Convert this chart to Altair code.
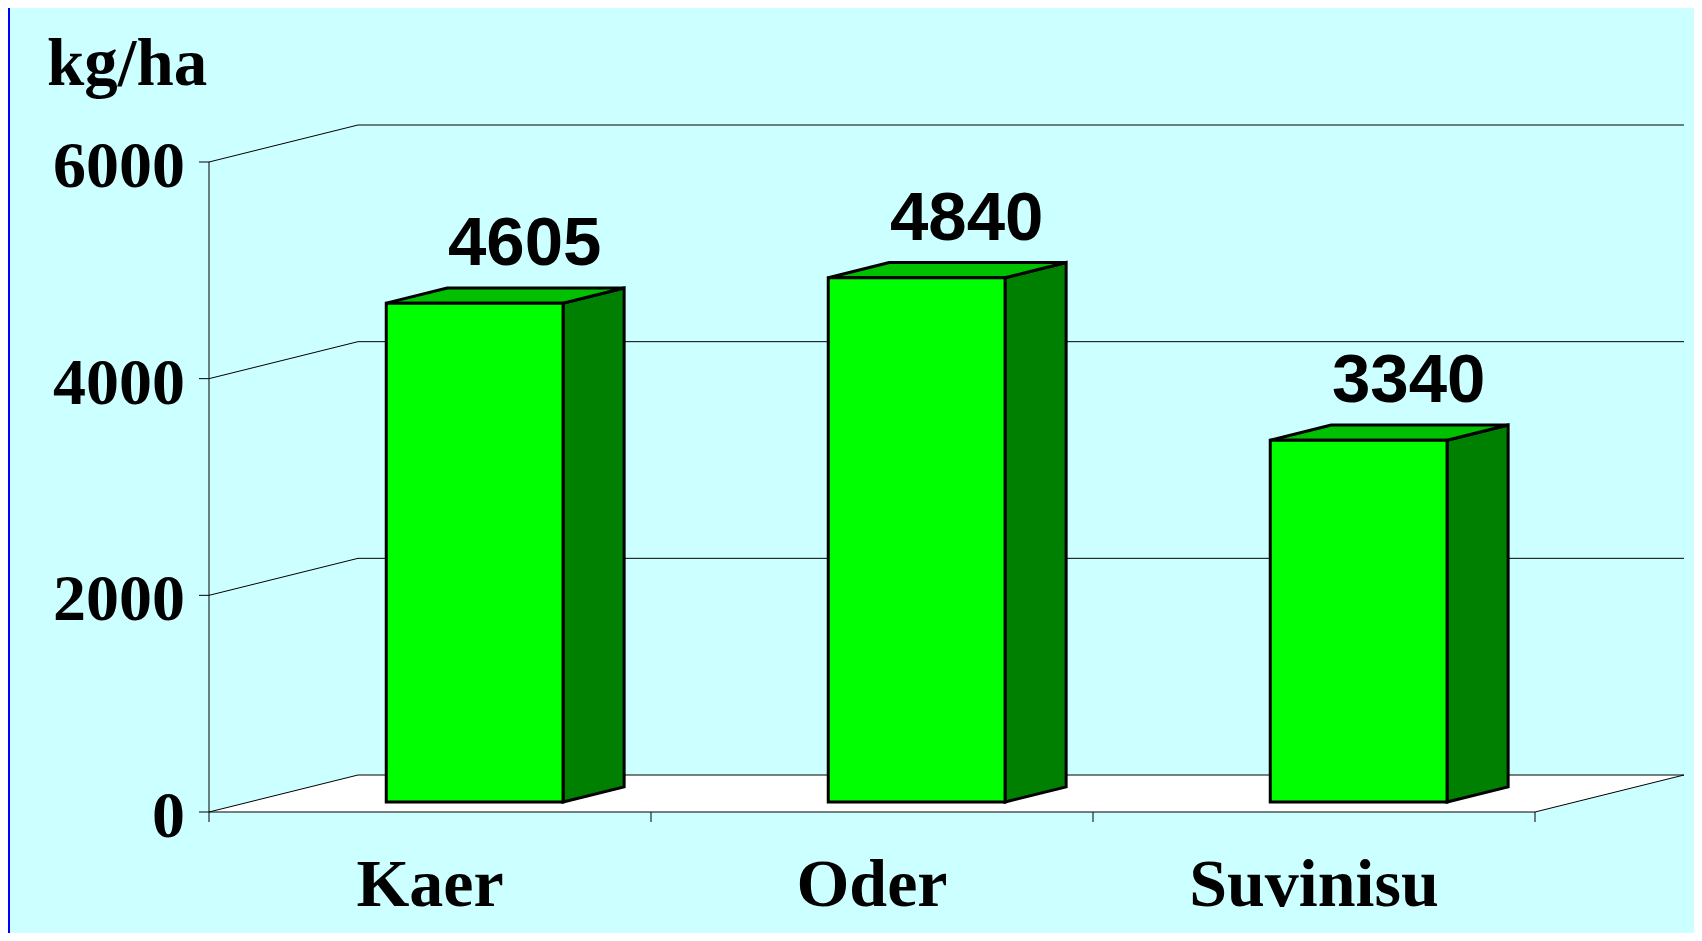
import altair as alt
import pandas as pd

# ---- data ----
categories = ["Kaer", "Oder", "Suvinisu"]
values = [4605, 4840, 3340]
y_ticks = [0, 2000, 4000, 6000]
y_title = "kg/ha"

# ---- layout constants (pixels of the chart canvas) ----
W, H = 1686, 925
PX_X = 442.0            # pixels per category unit on the front plane
X0_PX = 201.0           # canvas x of the front y-axis
PX_Y = 650.0 / 6000.0   # pixels per value unit
Y0_PX = 804.0           # canvas y of the front zero line
DX = 149.0 / PX_X       # full depth, x units
DY = 37.0 / PX_Y        # full depth, value units
OX, BW = 0.31, 0.40     # bar offset and width inside category
DF, DB = 0.27, 0.68     # bar front / back depth fractions
NCAT = len(categories)

xdom = [-X0_PX / PX_X, (W - X0_PX) / PX_X]
ydom = [-(H - Y0_PX) / PX_Y, Y0_PX / PX_Y]
xs = alt.Scale(domain=xdom, nice=False, zero=False)
ys = alt.Scale(domain=ydom, nice=False, zero=False)


def X(f):
    return alt.X(f"{f}:Q", scale=xs, axis=None)


def Y(f):
    return alt.Y(f"{f}:Q", scale=ys, axis=None)


# ---- walls / floor ----
floor = pd.DataFrame({"y": [0, DY], "xl": [0, DX], "xr": [NCAT, NCAT + DX]})
floor_layer = alt.Chart(floor).mark_area(orient="horizontal", fill="white").encode(
    y=Y("y"), x=X("xl"), x2="xr")

lines = []
for v in y_ticks:
    lines.append({"x0": 0, "y0": v, "x1": DX, "y1": v + DY})          # left wall
    lines.append({"x0": DX, "y0": v + DY, "x1": NCAT + DX, "y1": v + DY})  # back wall
lines.append({"x0": 0, "y0": 0, "x1": NCAT, "y1": 0})                # front floor edge
lines.append({"x0": NCAT, "y0": 0, "x1": NCAT + DX, "y1": DY})        # right floor edge
lines.append({"x0": 0, "y0": 0, "x1": 0, "y1": y_ticks[-1]})         # y axis
tick_y = 10 / PX_X
for v in y_ticks:
    lines.append({"x0": -tick_y, "y0": v, "x1": 0, "y1": v})
tick_x = 10 / PX_Y
for i in range(NCAT + 1):
    lines.append({"x0": i, "y0": -tick_x, "x1": i, "y1": 0})
lines_df = pd.DataFrame(lines)
line_layer = alt.Chart(lines_df).mark_rule(color="black", strokeWidth=1).encode(
    x=X("x0"), y=Y("y0"), x2="x1", y2="y1")

# ---- bars ----
front, side, top, lab = [], [], [], []
for i, (c, v) in enumerate(zip(categories, values)):
    xl = i + OX
    xr = i + OX + BW
    front.append({"c": c, "x0": xl + DF * DX, "x1": xr + DF * DX, "y0": DF * DY, "y1": v + DF * DY})
    side.append({"c": c, "x": xr + DF * DX, "lo": DF * DY, "hi": v + DF * DY})
    side.append({"c": c, "x": xr + DB * DX, "lo": DB * DY, "hi": v + DB * DY})
    top.append({"c": c, "y": v + DF * DY, "xl": xl + DF * DX, "xr": xr + DF * DX})
    top.append({"c": c, "y": v + DB * DY, "xl": xl + DB * DX, "xr": xr + DB * DX})
    lab.append({"c": c, "x": (xl + xr) / 2 + DF * DX, "y": v + DF * DY, "t": str(v)})

side_layer = alt.Chart(pd.DataFrame(side)).mark_area(
    fill="#008000", stroke="black", strokeWidth=3, strokeJoin="miter").encode(
    x=X("x"), y=Y("lo"), y2="hi", detail="c:N")
top_layer = alt.Chart(pd.DataFrame(top)).mark_area(
    orient="horizontal", fill="#00C000", stroke="black", strokeWidth=3, strokeJoin="miter").encode(
    y=Y("y"), x=X("xl"), x2="xr", detail="c:N")
front_layer = alt.Chart(pd.DataFrame(front)).mark_rect(
    fill="#00FF00", stroke="black", strokeWidth=3).encode(
    x=X("x0"), x2="x1", y=Y("y0"), y2="y1")

value_labels = alt.Chart(pd.DataFrame(lab)).mark_text(
    font="Liberation Sans", fontWeight="bold", fontSize=69, color="black",
    align="center", baseline="alphabetic", dx=50, dy=-38).encode(
    x=X("x"), y=Y("y"), text="t:N")

cat_df = pd.DataFrame({"x": [i + 0.5 for i in range(NCAT)], "y": [0] * NCAT, "t": categories})
cat_labels = alt.Chart(cat_df).mark_text(
    font="Liberation Serif", fontWeight="bold", fontSize=68, color="black",
    align="center", baseline="alphabetic", dy=94).encode(
    x=X("x"), y=Y("y"), text="t:N")

yl_df = pd.DataFrame({"x": [0] * len(y_ticks), "y": y_ticks, "t": [str(v) for v in y_ticks]})
y_labels = alt.Chart(yl_df).mark_text(
    font="Liberation Serif", fontWeight="bold", fontSize=66, color="black",
    align="right", baseline="alphabetic", dx=-24, dy=25).encode(
    x=X("x"), y=Y("y"), text="t:N")

title_layer = alt.Chart(pd.DataFrame({"t": [y_title]})).mark_text(
    font="Liberation Serif", fontWeight="bold", fontSize=67, color="black",
    align="left", baseline="alphabetic").encode(
    x=alt.value(39), y=alt.value(77), text="t:N")

border = alt.Chart(pd.DataFrame({"k": [0]})).mark_rule(color="#0000FF", strokeWidth=2).encode(
    x=alt.value(1), y=alt.value(0), y2=alt.value(H))

chart = alt.layer(
    floor_layer, line_layer, side_layer, top_layer, front_layer,
    value_labels, cat_labels, y_labels, title_layer, border
).properties(
    width=W, height=H, background="#CCFFFF", padding=0,
    autosize=alt.AutoSizeParams(type="none")
).configure_view(stroke=None)

chart.save("out.html", embed_options={"renderer": "svg", "actions": False})
